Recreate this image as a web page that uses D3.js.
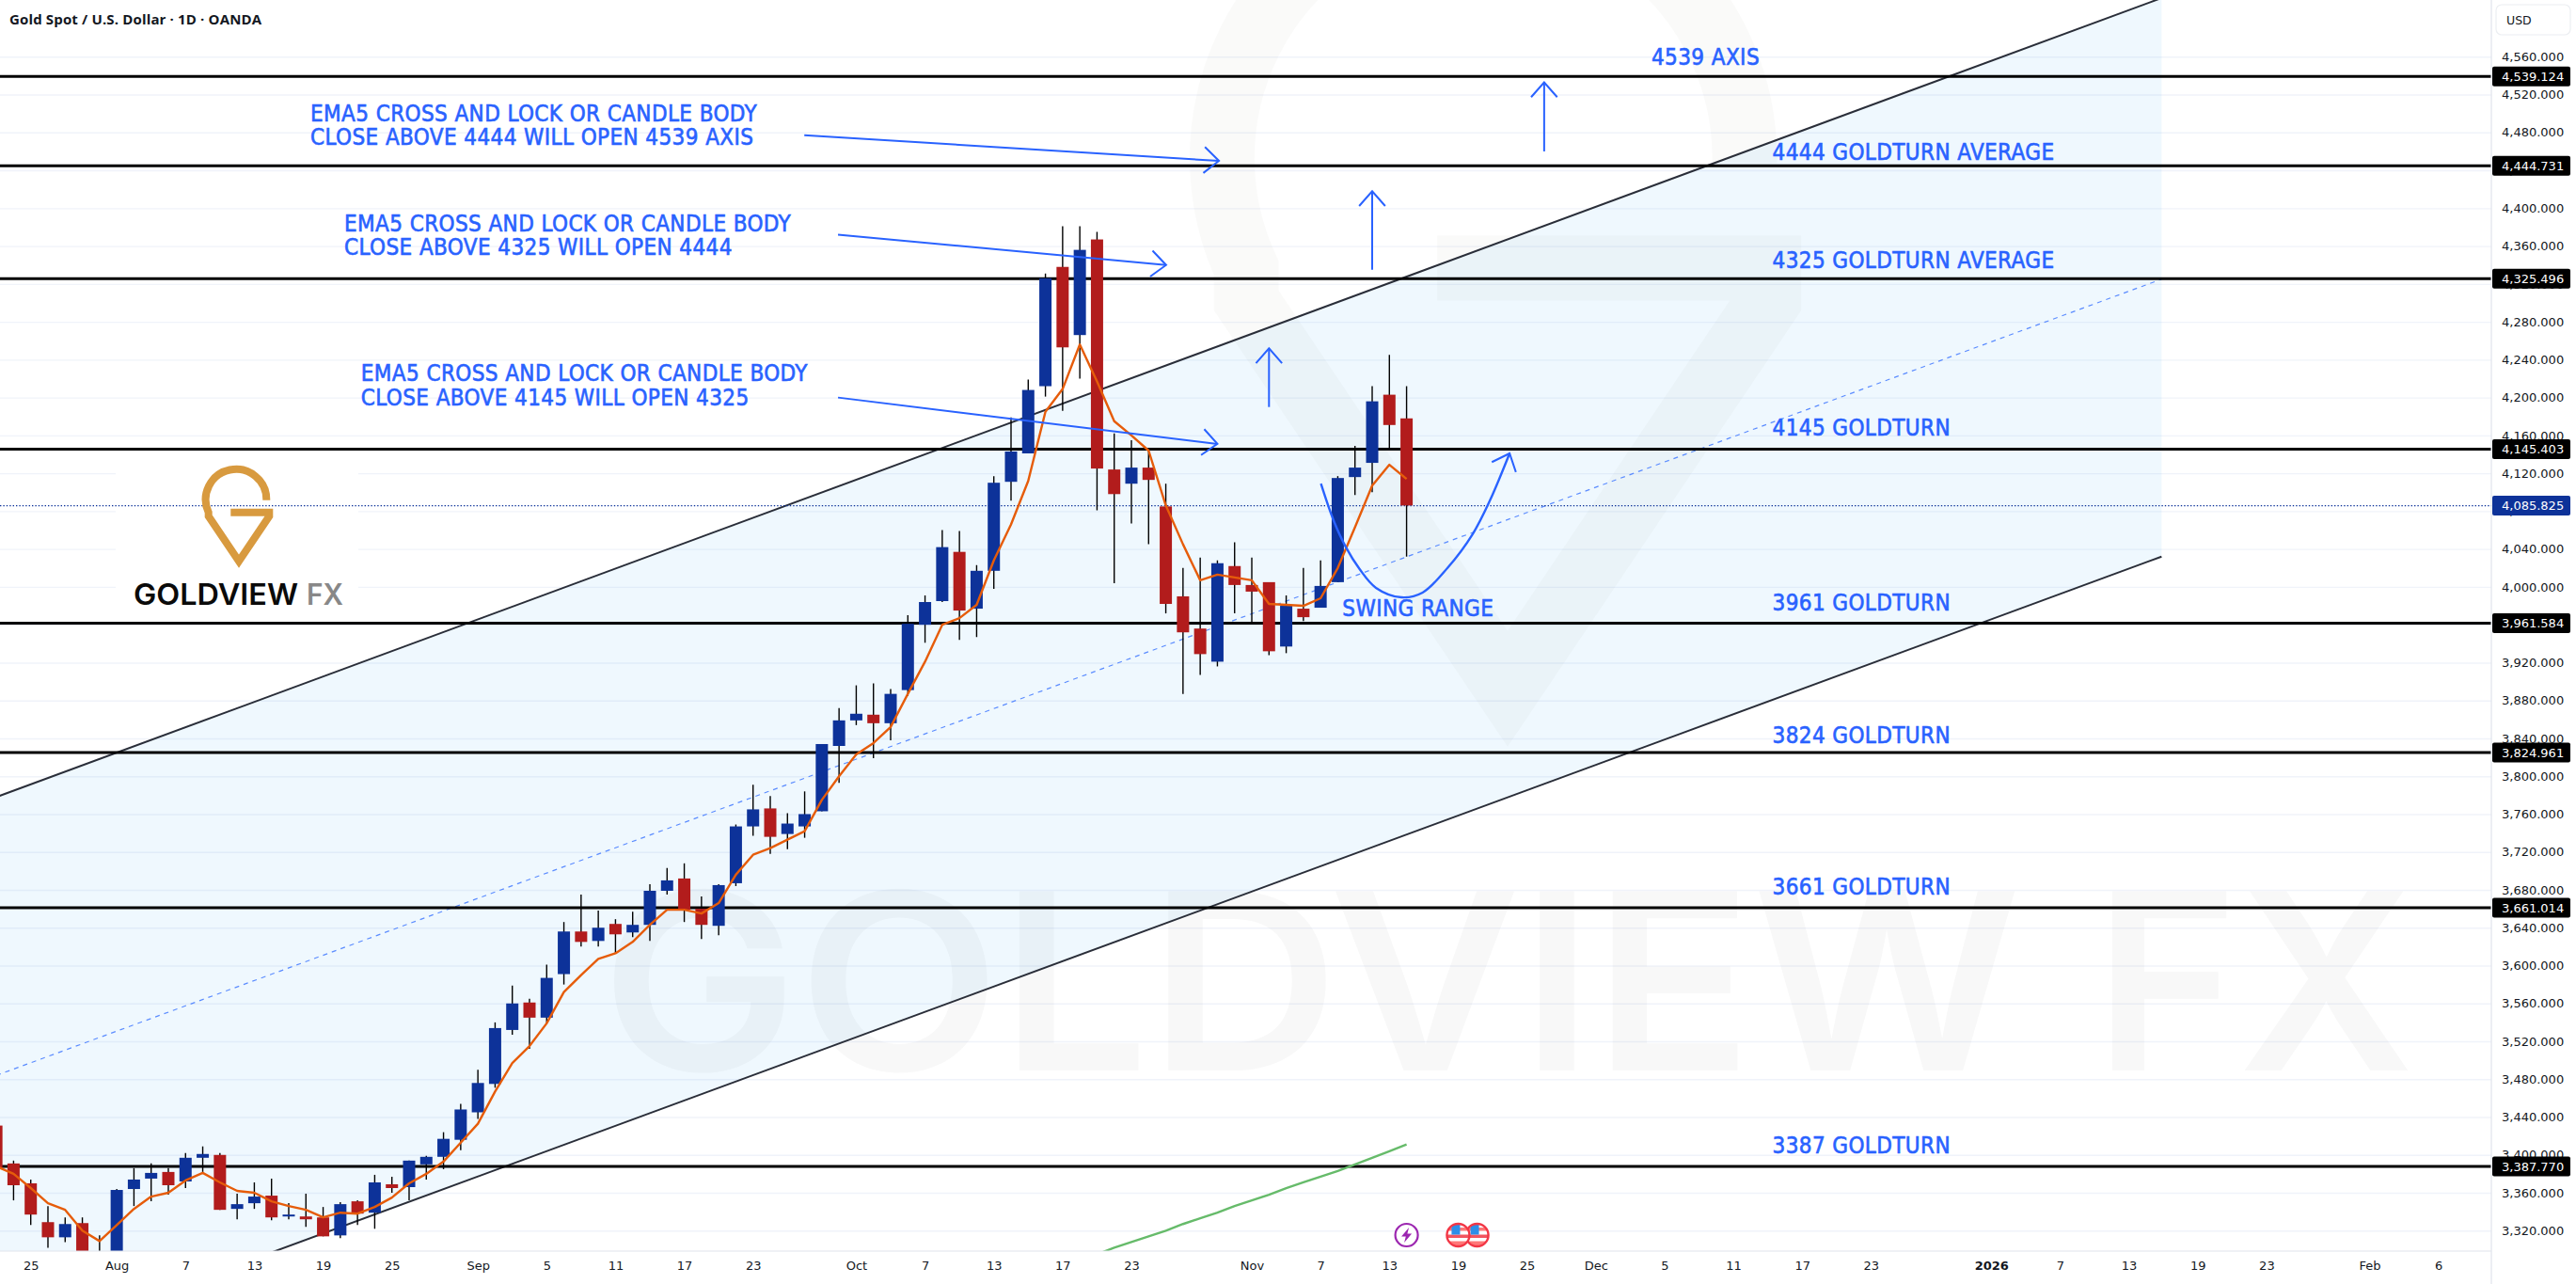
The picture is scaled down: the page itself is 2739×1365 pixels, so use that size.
<!DOCTYPE html>
<html>
<head>
<meta charset="utf-8">
<title>Gold Spot / U.S. Dollar</title>
<script src="https://cdn.jsdelivr.net/npm/d3@7"></script>
<style>
  html, body { margin: 0; padding: 0; background: #fff; overflow: hidden; }
  text { font-family: "DejaVu Sans", sans-serif; }
  .note { font-family: "DejaVu Sans Condensed", "DejaVu Sans", sans-serif; font-stretch: condensed; font-size: 24px; letter-spacing: 0.4px; fill: #2962ff; stroke: #2962ff; stroke-width: 0.6px; }
</style>
</head>
<body>
<div id="chart"></div>
<script>
// Candles, one entry per trading day starting 23 Jul 2025
const opens = [3431,3391,3370,3329,3313,3328,3274,3290,3364,3375,3382,3372,3397,3400,3343,3349,3357,3335,3335,3334,3315,3351,3339,3369,3366,3390,3398,3416,3445,3475,3532,3561,3545,3591,3636,3626,3644,3635,3643,3679,3692,3660,3642,3687,3747,3766,3739,3747,3763,3832,3859,3865,3856,3891,3960,3985,4037,3977,4017,4111,4141,4212,4338,4266,4367,4124,4109,4126,4085,3990,3956,3921,4022,4002,4005,3937,3977,3978,4005,4116,4131,4203,4178];
const highs = [3440,3394,3374,3346,3334,3334,3315,3364,3386,3391,3386,3402,3409,3402,3359,3371,3375,3349,3359,3345,3350,3352,3379,3377,3394,3399,3424,3454,3490,3540,3579,3565,3601,3646,3675,3658,3649,3657,3686,3703,3708,3673,3686,3749,3791,3779,3761,3784,3834,3872,3896,3898,3892,3970,3991,4060,4059,4023,4117,4179,4219,4331,4381,4381,4375,4162,4155,4146,4109,4020,4031,4028,4047,4031,4005,3991,4020,4028,4117,4149,4212,4245,4212];
const lows = [3380,3352,3326,3302,3308,3268,3268,3281,3346,3351,3358,3365,3382,3342,3332,3343,3331,3332,3324,3314,3312,3326,3322,3360,3352,3374,3385,3405,3438,3471,3527,3512,3539,3580,3620,3620,3613,3630,3626,3675,3646,3628,3632,3684,3737,3718,3723,3735,3763,3793,3854,3819,3838,3885,3941,3984,3944,3947,3998,4091,4141,4201,4186,4220,4081,4004,4067,4045,3972,3887,3907,3916,3972,3961,3928,3930,3964,3978,4005,4097,4100,4145,4032];
const closes = [3386,3368,3337,3313,3327,3274,3289,3363,3374,3381,3368,3397,3401,3342,3348,3356,3334,3337,3332,3314,3348,3338,3371,3365,3394,3398,3417,3448,3476,3534,3560,3545,3587,3636,3625,3640,3633,3643,3679,3690,3659,3643,3685,3747,3765,3736,3750,3760,3834,3859,3866,3856,3887,3961,3984,4042,3975,4017,4110,4143,4208,4326,4253,4356,4125,4098,4126,4113,3982,3952,3929,4025,4002,3995,3932,3980,3968,4001,4115,4126,4196,4171,4086];

// EMA5, same bars as the candles
const ema5 = [3388,3380,3365,3349,3342,3320,3309,3326,3343,3356,3360,3373,3381,3371,3362,3360,3351,3346,3342,3334,3339,3338,3345,3355,3370,3380,3393,3413,3433,3467,3497,3515,3539,3572,3590,3607,3613,3625,3643,3659,3659,3655,3666,3696,3717,3724,3733,3742,3775,3800,3823,3835,3852,3887,3921,3960,3967,3981,4028,4066,4112,4185,4209,4256,4217,4175,4160,4144,4086,4045,4007,4013,4010,4007,3982,3981,3980,3988,4020,4063,4107,4129,4114];

// Long average, only its last stretch is on screen
const slowStart = 64;
const slowAvg = [3295,3302,3308,3314,3320,3327,3333,3339,3346,3352,3358,3365,3371,3377,3383,3390,3397,3404,3411];

// Axis ticks
const priceTicks = [4560,4520,4480,4440,4400,4360,4320,4280,4240,4200,4160,4120,4080,4040,4000,3960,3920,3880,3840,3800,3760,3720,3680,3640,3600,3560,3520,3480,3440,3400,3360,3320];
const timeBars = [2,7,11,15,19,23,28,32,36,40,44,50,54,58,62,66,73,77,81,85,89,93,97,101,105,109,116,120,124,128,132,138,142];
const timeLabels = ["25","Aug","7","13","19","25","Sep","5","11","17","23","Oct","7","13","17","23","Nov","7","13","19","25","Dec","5","11","17","23","2026","7","13","19","23","Feb","6"];

// Horizontal levels and their captions
const levelPrices = [4539.124,4444.731,4325.496,4145.403,3961.584,3824.961,3661.014,3387.770];
const lastPrice = 4085.825;
const captionTexts = ["4539 AXIS","4444 GOLDTURN AVERAGE","4325 GOLDTURN AVERAGE","4145 GOLDTURN","3961 GOLDTURN","3824 GOLDTURN","3661 GOLDTURN","3387 GOLDTURN"];
const captionBars = [96.24,103.27,103.27,103.27,103.27,103.27,103.27,103.27];
const captionPrices = [4551.3,4451,4336.7,4159.4,3974.6,3834.5,3675.3,3401.8];

// Notes, two lines each
const noteLines = [
  ["EMA5 CROSS AND LOCK OR CANDLE BODY","CLOSE ABOVE 4444 WILL OPEN 4539 AXIS"],
  ["EMA5 CROSS AND LOCK OR CANDLE BODY","CLOSE ABOVE 4325 WILL OPEN 4444"],
  ["EMA5 CROSS AND LOCK OR CANDLE BODY","CLOSE ABOVE 4145 WILL OPEN 4325"]
];
const noteBars = [18.26,20.23,21.2];
const notePrices = [[4491.7,4466.9],[4375.5,4350.7],[4217.5,4191.2]];

// Channel, [bar, price]
const channelUpper = [[0,3778],[125.9,4622]];
const channelMiddle = [[0,3484],[125.9,4325]];
const channelLower = [[0,3190],[125.9,4032]];

// Drawn arrows, [bar, price]
const arrows = [
  [[46.98,4477],[71.09,4450]],
  [[48.94,4372],[68.02,4340]],
  [[48.94,4200],[71.0,4151]],
  [[90,4460],[90,4533]],
  [[80,4335],[80,4418]],
  [[74,4190],[74,4252]]
];
const swingCurve = [[77.02,4109],[77.76,4070],[78.47,4042],[79.26,4019],[80.22,3999],[81.7,3989],[82.93,3994],[84.38,4020],[85.85,4056],[86.84,4091],[87.99,4141]];

const width = 2739, height = 1365;
const plotRight = 2649, plotBottom = 1330;

const x = d3.scaleLinear().domain([0, 142]).range([-3.87, 2592.74]);
const y = d3.scaleLinear().domain([4560, 3320]).range([60.3, 1308.3]);

const svg = d3.select("#chart").append("svg")
  .attr("width", width)
  .attr("height", height)
  .style("display", "block");

svg.append("defs").append("clipPath").attr("id", "plot")
  .append("rect").attr("width", plotRight).attr("height", plotBottom);

const plot = svg.append("g").attr("clip-path", "url(#plot)");

// Grid comes from the price axis
plot.append("g")
  .call(d3.axisLeft(y).tickValues(priceTicks).tickSize(-plotRight).tickFormat(""))
  .call(g => g.select(".domain").remove())
  .call(g => g.selectAll("line").attr("stroke", "#f0f3fa").attr("stroke-width", 1.4));

// White box behind the logo
plot.append("rect").attr("x", 123).attr("y", 468).attr("width", 258).attr("height", 192).attr("fill", "#fff");

// Channel fill
const lineXY = d3.line().x(d => x(d[0])).y(d => y(d[1]));
plot.append("path")
  .attr("d", lineXY(channelUpper.concat(channelLower.slice().reverse())) + "Z")
  .attr("fill", "rgba(33,150,243,0.07)");

// Watermark
const logoPath = "M29.3,-13A32.3,32.3 0 1 0 -32.3,0L-32.3,4L0,52L32.3,4L32.3,0L-8.7,0";
plot.append("path")
  .attr("d", logoPath)
  .attr("transform", "translate(1603,285) scale(8.6)")
  .attr("fill", "none")
  .attr("stroke", "rgba(110,100,70,0.03)")
  .attr("stroke-width", 8);
plot.append("text").text("GOLDVIEW")
  .attr("x", 639).attr("y", 1138)
  .attr("textLength", 1510).attr("lengthAdjust", "spacingAndGlyphs")
  .style("font-family", "Inter").style("font-weight", 600).style("font-size", "262px")
  .attr("fill", "rgba(19,23,34,0.033)");
plot.append("text").text("FX")
  .attr("x", 2227).attr("y", 1138)
  .attr("textLength", 340).attr("lengthAdjust", "spacingAndGlyphs")
  .style("font-family", "Inter").style("font-weight", 600).style("font-size", "262px")
  .attr("fill", "rgba(19,23,34,0.033)");

// Channel lines
plot.append("path").attr("d", lineXY(channelUpper)).attr("fill", "none").attr("stroke", "#2a2e39").attr("stroke-width", 2);
plot.append("path").attr("d", lineXY(channelLower)).attr("fill", "none").attr("stroke", "#2a2e39").attr("stroke-width", 2);
plot.append("path").attr("d", lineXY(channelMiddle)).attr("fill", "none")
  .attr("stroke", "#5b8cff").attr("stroke-width", 1.2).attr("stroke-dasharray", "5 5");

// Last price line
plot.append("line")
  .attr("x1", 0).attr("x2", plotRight)
  .attr("y1", y(lastPrice)).attr("y2", y(lastPrice))
  .attr("stroke", "#0d3299").attr("stroke-width", 1.2).attr("stroke-dasharray", "1.4 2");

// Logo
const logo = plot.append("g").attr("transform", "translate(254,544.7)");
logo.append("path").attr("d", logoPath).attr("fill", "none").attr("stroke", "#d89a3f").attr("stroke-width", 8);
plot.append("text").text("GOLDVIEW")
  .attr("x", 142).attr("y", 643).attr("textLength", 175).attr("lengthAdjust", "spacingAndGlyphs")
  .style("font-family", "Inter").style("font-weight", 600).style("font-size", "31px").attr("fill", "#0a0a0a");
plot.append("text").text("FX")
  .attr("x", 326).attr("y", 643).attr("textLength", 39).attr("lengthAdjust", "spacingAndGlyphs")
  .style("font-family", "Inter").style("font-weight", 600).style("font-size", "31px").attr("fill", "#888");

// Levels
plot.selectAll(".level").data(levelPrices).enter().append("line")
  .attr("class", "level")
  .attr("x1", 0).attr("x2", plotRight)
  .attr("y1", d => y(d)).attr("y2", d => y(d))
  .attr("stroke", "#000").attr("stroke-width", 3);

// Candles
const bodyWidth = 13;
const candle = plot.selectAll(".candle").data(opens).enter().append("g").attr("class", "candle");
candle.append("line")
  .attr("x1", (d, i) => x(i)).attr("x2", (d, i) => x(i))
  .attr("y1", (d, i) => y(highs[i])).attr("y2", (d, i) => y(lows[i]))
  .attr("stroke", "#000").attr("stroke-width", 1.4);
candle.append("rect")
  .attr("x", (d, i) => x(i) - bodyWidth / 2)
  .attr("width", bodyWidth)
  .attr("y", (d, i) => y(Math.max(d, closes[i])))
  .attr("height", (d, i) => Math.max(1, Math.abs(y(d) - y(closes[i]))))
  .attr("fill", (d, i) => closes[i] >= d ? "#0d3299" : "#b21c1c");

// Averages
const valueLine = start => d3.line().x((d, i) => x(i + start)).y(d => y(d));
plot.append("path").attr("d", valueLine(0)(ema5)).attr("fill", "none")
  .attr("stroke", "#e65c0a").attr("stroke-width", 2.4).attr("stroke-linejoin", "round");
plot.append("path").attr("d", valueLine(slowStart)(slowAvg)).attr("fill", "none")
  .attr("stroke", "#66bb6a").attr("stroke-width", 2.4);

// Arrow head from the last segment of a stroke
const addHead = (p0, p1) => {
  const x0 = x(p0[0]), y0 = y(p0[1]), x1 = x(p1[0]), y1 = y(p1[1]);
  const a = Math.atan2(y1 - y0, x1 - x0), len = 21, spread = 0.72;
  const head = [a - spread, a + spread].map(t => [x1 - len * Math.cos(t), y1 - len * Math.sin(t)]);
  plot.append("path")
    .attr("d", `M${head[0]}L${x1},${y1}L${head[1]}`)
    .attr("fill", "none").attr("stroke", "#2962ff").attr("stroke-width", 2);
};

arrows.forEach(a => {
  plot.append("path").attr("d", lineXY(a)).attr("fill", "none").attr("stroke", "#2962ff").attr("stroke-width", 2);
  addHead(a[0], a[1]);
});
plot.append("path").attr("d", lineXY.curve(d3.curveCatmullRom)(swingCurve))
  .attr("fill", "none").attr("stroke", "#2962ff").attr("stroke-width", 2.4);
lineXY.curve(d3.curveLinear);
addHead(swingCurve[swingCurve.length - 2], swingCurve[swingCurve.length - 1]);

// Notes and captions
noteLines.forEach((lines, n) => {
  lines.forEach((t, k) => {
    plot.append("text").attr("class", "note").text(t)
      .attr("x", x(noteBars[n])).attr("y", y(notePrices[n][k]));
  });
});
plot.selectAll(".caption").data(captionTexts).enter().append("text")
  .attr("class", "note")
  .text(d => d)
  .attr("x", (d, i) => x(captionBars[i]))
  .attr("y", (d, i) => y(captionPrices[i]));
plot.append("text").attr("class", "note").text("SWING RANGE").attr("x", x(78.27)).attr("y", y(3969));

// Event icons on the bottom edge of the plot
const eventY = 1313;
const bolt = plot.append("g").attr("transform", `translate(${x(82)},${eventY})`);
bolt.append("circle").attr("r", 12).attr("fill", "#fff").attr("stroke", "#9c27b0").attr("stroke-width", 2.2);
bolt.append("path").attr("d", "M2.5,-8L-5.5,1.5L-0.8,1.5L-2.5,8L5.5,-1.5L0.8,-1.5Z").attr("fill", "#9c27b0");

[86.1, 85].forEach((bar, n) => {
  const flag = plot.append("g").attr("transform", `translate(${x(bar)},${eventY})`);
  const id = "flagClip" + n;
  flag.append("clipPath").attr("id", id).append("circle").attr("r", 12);
  const inner = flag.append("g").attr("clip-path", `url(#${id})`);
  inner.append("rect").attr("x", -12).attr("y", -12).attr("width", 24).attr("height", 24).attr("fill", "#fff");
  inner.append("rect").attr("x", -12).attr("y", -8).attr("width", 24).attr("height", 3.5).attr("fill", "#f77");
  inner.append("rect").attr("x", -12).attr("y", -0.5).attr("width", 24).attr("height", 3.5).attr("fill", "#f2555f");
  inner.append("rect").attr("x", -12).attr("y", 6.5).attr("width", 24).attr("height", 5.5).attr("fill", "#f77");
  inner.append("rect").attr("x", -7).attr("y", -12).attr("width", 9).attr("height", 11.5).attr("fill", "#2d8ee8");
  flag.append("circle").attr("r", 12).attr("fill", "none").attr("stroke", "#f23645").attr("stroke-width", 2.4);
});

// Axis panels
svg.append("rect").attr("x", plotRight).attr("width", width - plotRight).attr("height", height).attr("fill", "#fff");
svg.append("rect").attr("y", plotBottom).attr("width", plotRight).attr("height", height - plotBottom).attr("fill", "#fff");
svg.append("line").attr("x1", plotRight).attr("x2", plotRight).attr("y1", 0).attr("y2", height).attr("stroke", "#e0e3eb").attr("stroke-width", 1.2);
svg.append("line").attr("x1", 0).attr("x2", plotRight).attr("y1", plotBottom).attr("y2", plotBottom).attr("stroke", "#e0e3eb").attr("stroke-width", 1.2);

svg.append("g")
  .attr("transform", `translate(${plotRight},0)`)
  .call(d3.axisRight(y).tickValues(priceTicks).tickSize(0).tickPadding(11).tickFormat(d3.format(",.3f")))
  .call(g => g.select(".domain").remove())
  .call(g => g.selectAll("text").attr("fill", "#131722").style("font-size", "13px").style("font-family", "'DejaVu Sans'"));

svg.append("g")
  .attr("transform", `translate(0,${plotBottom})`)
  .call(d3.axisBottom(x).tickValues(timeBars).tickSize(0).tickPadding(11).tickFormat((d, i) => timeLabels[i]))
  .call(g => g.select(".domain").remove())
  .call(g => g.selectAll("text").attr("fill", "#131722").style("font-size", "13px").style("font-family", "'DejaVu Sans'")
    .style("font-weight", d => d === 116 ? "bold" : "normal"));

// Price tags
const tagData = levelPrices.map(p => ({ price: p, color: "#000" })).concat([{ price: lastPrice, color: "#0d3299" }]);
const tag = svg.selectAll(".tag").data(tagData).enter().append("g").attr("class", "tag")
  .attr("transform", d => `translate(${plotRight + 1},${y(d.price)})`);
tag.append("rect").attr("y", -10.5).attr("width", 83).attr("height", 21).attr("rx", 2).attr("fill", d => d.color);
tag.append("text").text(d => d3.format(",.3f")(d.price))
  .attr("x", 10).attr("dy", "0.36em").attr("fill", "#fff").style("font-size", "13px");

// USD button
svg.append("rect").attr("x", 2654).attr("y", 5).attr("width", 79).attr("height", 32).attr("rx", 6)
  .attr("fill", "#fff").attr("stroke", "#eceef2").attr("stroke-width", 1.2);
svg.append("text").text("USD").attr("x", 2665).attr("y", 25.5).attr("fill", "#131722").style("font-size", "12.5px");

// Title
svg.append("text").text("Gold Spot / U.S. Dollar · 1D · OANDA")
  .attr("x", 10).attr("y", 25.5).attr("fill", "#131722")
  .style("font-family", "'Open Sans'").style("font-weight", 700).style("font-size", "15px").style("letter-spacing", "0.15px");
</script>
</body>
</html>
